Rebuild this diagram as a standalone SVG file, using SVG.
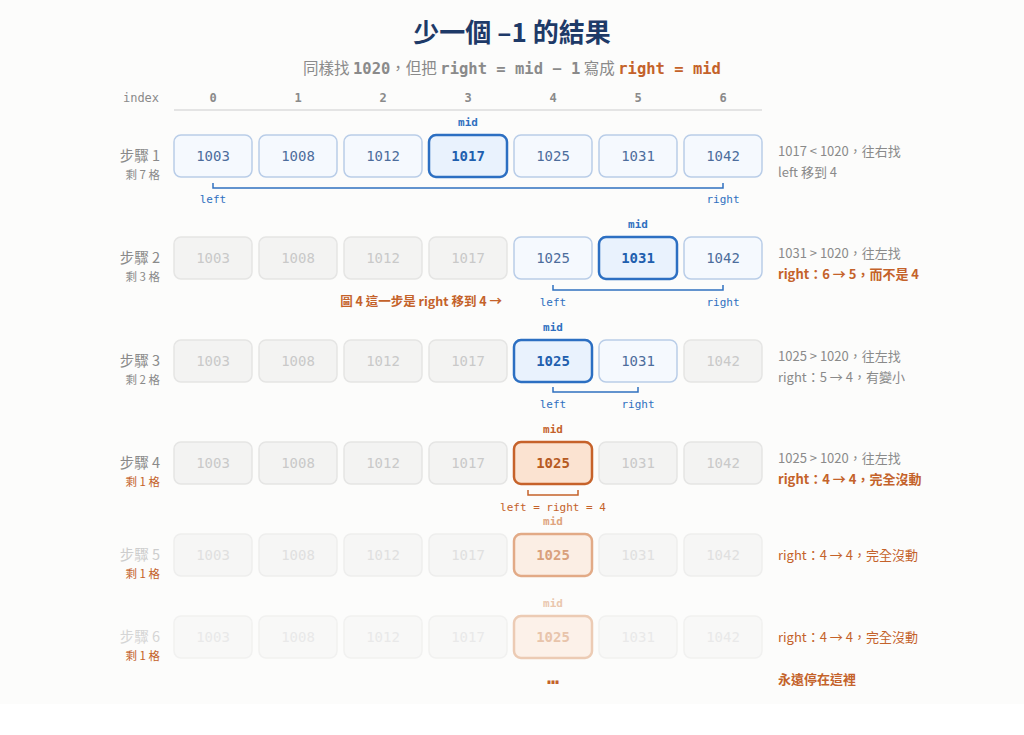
<svg xmlns="http://www.w3.org/2000/svg" width="1024" height="735" viewBox="0 0 1024 735">
<style>
.cjk{font-family:"Noto Sans CJK TC","Noto Sans",sans-serif}
.mono{font-family:"DejaVu Sans Mono","Liberation Mono",monospace}
.num{font-family:"DejaVu Sans Mono","Liberation Mono",monospace;font-size:14px;text-anchor:middle}
.bx{fill:#f5f9fe;stroke:#b9cde8;stroke-width:1.5}
.bxt{fill:#4d6d9c}
.mid{fill:#e9f2fd;stroke:#2c6fc2;stroke-width:2.5}
.midt{fill:#1f5fae;font-weight:bold}
.gr{fill:#f3f3f2;stroke:#e5e5e4;stroke-width:1.5}
.grt{fill:#c9c9c9}
.gr2{fill:#f6f6f5;stroke:#eeeeed;stroke-width:1.5}
.gr2t{fill:#e0e0e0}
.gr3{fill:#f8f8f7;stroke:#f1f1f0;stroke-width:1.5}
.gr3t{fill:#e9e9e9}
.or{fill:#fbe3d1;stroke:#c6622a;stroke-width:2.5}
.ort{fill:#b65a22;font-weight:bold}
.lbl{font-size:11px;text-anchor:middle}
.br{fill:none;stroke-width:1.5}
.step{font-size:14.5px;text-anchor:end;fill:#8a8a8a}
.rem{font-size:11.5px;text-anchor:end;fill:#8a8a8a}
.note{font-size:13px;fill:#8a8a8a}
.blue{fill:#2f70c0}
.orange{fill:#c4622a}
</style>
<rect x="0" y="0" width="1024" height="704" fill="#fcfcfb"/>
<rect x="0" y="704" width="1024" height="31" fill="#ffffff"/>

<g id="title">
<text x="512" y="42" class="cjk" font-size="26" font-weight="bold" fill="#1e3a68" text-anchor="middle">少一個 –1 的結果</text>
<text x="512" y="74" class="cjk" font-size="15.5" fill="#8a8a8a" text-anchor="middle">同樣找 <tspan class="mono" font-weight="bold">1020</tspan>，但把 <tspan class="mono" font-weight="bold">right = mid − 1</tspan> 寫成 <tspan class="mono" font-weight="bold" fill="#c4622a">right = mid</tspan></text>
</g>

<g id="index-header" class="mono" font-size="12" fill="#8a8a8a" text-anchor="middle">
<text x="141" y="102">index</text>
<text x="213" y="102" font-weight="bold">0</text>
<text x="298" y="102" font-weight="bold">1</text>
<text x="383" y="102" font-weight="bold">2</text>
<text x="468" y="102" font-weight="bold">3</text>
<text x="553" y="102" font-weight="bold">4</text>
<text x="638" y="102" font-weight="bold">5</text>
<text x="723" y="102" font-weight="bold">6</text>
<line x1="174" y1="110" x2="762" y2="110" stroke="#dcdcdc" stroke-width="1.5"/>
</g>

<!-- Step 1 -->
<g id="step1">
<text x="160" y="161" class="cjk step">步驟 1</text>
<text x="160" y="179" class="cjk rem">剩 7 格</text>
<rect x="174" y="135" width="78" height="42" rx="7" class="bx"/><text x="213" y="161" class="num bxt">1003</text>
<rect x="259" y="135" width="78" height="42" rx="7" class="bx"/><text x="298" y="161" class="num bxt">1008</text>
<rect x="344" y="135" width="78" height="42" rx="7" class="bx"/><text x="383" y="161" class="num bxt">1012</text>
<rect x="429" y="135" width="78" height="42" rx="7" class="mid"/><text x="468" y="161" class="num midt">1017</text>
<rect x="514" y="135" width="78" height="42" rx="7" class="bx"/><text x="553" y="161" class="num bxt">1025</text>
<rect x="599" y="135" width="78" height="42" rx="7" class="bx"/><text x="638" y="161" class="num bxt">1031</text>
<rect x="684" y="135" width="78" height="42" rx="7" class="bx"/><text x="723" y="161" class="num bxt">1042</text>
<text x="468" y="126" class="mono lbl blue" font-weight="bold">mid</text>
<text x="213" y="203" class="mono lbl blue">left</text>
<text x="723" y="203" class="mono lbl blue">right</text>
<text x="778" y="156" class="cjk note">1017 &lt; 1020，往右找</text>
<text x="778" y="177" class="cjk note">left 移到 4</text>
</g>

<!-- Step 2 -->
<g id="step2">
<text x="160" y="263" class="cjk step">步驟 2</text>
<text x="160" y="281" class="cjk rem">剩 3 格</text>
<rect x="174" y="237" width="78" height="42" rx="7" class="gr"/><text x="213" y="263" class="num grt">1003</text>
<rect x="259" y="237" width="78" height="42" rx="7" class="gr"/><text x="298" y="263" class="num grt">1008</text>
<rect x="344" y="237" width="78" height="42" rx="7" class="gr"/><text x="383" y="263" class="num grt">1012</text>
<rect x="429" y="237" width="78" height="42" rx="7" class="gr"/><text x="468" y="263" class="num grt">1017</text>
<rect x="514" y="237" width="78" height="42" rx="7" class="bx"/><text x="553" y="263" class="num bxt">1025</text>
<rect x="599" y="237" width="78" height="42" rx="7" class="mid"/><text x="638" y="263" class="num midt">1031</text>
<rect x="684" y="237" width="78" height="42" rx="7" class="bx"/><text x="723" y="263" class="num bxt">1042</text>
<text x="638" y="228" class="mono lbl blue" font-weight="bold">mid</text>
<text x="553" y="306" class="mono lbl blue">left</text>
<text x="723" y="306" class="mono lbl blue">right</text>
<text x="502" y="306" class="cjk orange" font-size="12.5" font-weight="bold" text-anchor="end">圖 4 這一步是 right 移到 4 →</text>
<text x="778" y="258" class="cjk note">1031 &gt; 1020，往左找</text>
<text x="778" y="279" class="cjk note orange" font-weight="bold">right：6 → 5，而不是 4</text>
</g>

<!-- Step 3 -->
<g id="step3">
<text x="160" y="366" class="cjk step">步驟 3</text>
<text x="160" y="384" class="cjk rem">剩 2 格</text>
<rect x="174" y="340" width="78" height="42" rx="7" class="gr"/><text x="213" y="366" class="num grt">1003</text>
<rect x="259" y="340" width="78" height="42" rx="7" class="gr"/><text x="298" y="366" class="num grt">1008</text>
<rect x="344" y="340" width="78" height="42" rx="7" class="gr"/><text x="383" y="366" class="num grt">1012</text>
<rect x="429" y="340" width="78" height="42" rx="7" class="gr"/><text x="468" y="366" class="num grt">1017</text>
<rect x="514" y="340" width="78" height="42" rx="7" class="mid"/><text x="553" y="366" class="num midt">1025</text>
<rect x="599" y="340" width="78" height="42" rx="7" class="bx"/><text x="638" y="366" class="num bxt">1031</text>
<rect x="684" y="340" width="78" height="42" rx="7" class="gr"/><text x="723" y="366" class="num grt">1042</text>
<text x="553" y="331" class="mono lbl blue" font-weight="bold">mid</text>
<text x="553" y="408" class="mono lbl blue">left</text>
<text x="638" y="408" class="mono lbl blue">right</text>
<text x="778" y="361" class="cjk note">1025 &gt; 1020，往左找</text>
<text x="778" y="382" class="cjk note">right：5 → 4，有變小</text>
</g>

<!-- Step 4 -->
<g id="step4">
<text x="160" y="468" class="cjk step">步驟 4</text>
<text x="160" y="486" class="cjk rem orange">剩 1 格</text>
<rect x="174" y="442" width="78" height="42" rx="7" class="gr"/><text x="213" y="468" class="num grt">1003</text>
<rect x="259" y="442" width="78" height="42" rx="7" class="gr"/><text x="298" y="468" class="num grt">1008</text>
<rect x="344" y="442" width="78" height="42" rx="7" class="gr"/><text x="383" y="468" class="num grt">1012</text>
<rect x="429" y="442" width="78" height="42" rx="7" class="gr"/><text x="468" y="468" class="num grt">1017</text>
<rect x="514" y="442" width="78" height="42" rx="7" class="or"/><text x="553" y="468" class="num ort">1025</text>
<rect x="599" y="442" width="78" height="42" rx="7" class="gr"/><text x="638" y="468" class="num grt">1031</text>
<rect x="684" y="442" width="78" height="42" rx="7" class="gr"/><text x="723" y="468" class="num grt">1042</text>
<text x="553" y="433" class="mono lbl orange" font-weight="bold">mid</text>
<text x="553" y="511" class="mono lbl orange">left = right = 4</text>
<text x="778" y="463" class="cjk note">1025 &gt; 1020，往左找</text>
<text x="778" y="484" class="cjk note orange" font-weight="bold">right：4 → 4，完全沒動</text>
</g>

<!-- Step 5 -->
<g id="step5">
<text x="160" y="560" class="cjk step" style="fill:#cdcdcd">步驟 5</text>
<text x="160" y="578" class="cjk rem orange">剩 1 格</text>
<rect x="174" y="534" width="78" height="42" rx="7" class="gr2"/><text x="213" y="560" class="num gr2t">1003</text>
<rect x="259" y="534" width="78" height="42" rx="7" class="gr2"/><text x="298" y="560" class="num gr2t">1008</text>
<rect x="344" y="534" width="78" height="42" rx="7" class="gr2"/><text x="383" y="560" class="num gr2t">1012</text>
<rect x="429" y="534" width="78" height="42" rx="7" class="gr2"/><text x="468" y="560" class="num gr2t">1017</text>
<rect x="514" y="534" width="78" height="42" rx="7" fill="#fbeee4" stroke="#e2aa86" stroke-width="2.5"/><text x="553" y="560" class="num" font-weight="bold" fill="#d9a07c">1025</text>
<rect x="599" y="534" width="78" height="42" rx="7" class="gr2"/><text x="638" y="560" class="num gr2t">1031</text>
<rect x="684" y="534" width="78" height="42" rx="7" class="gr2"/><text x="723" y="560" class="num gr2t">1042</text>
<text x="553" y="525" class="mono lbl" font-weight="bold" fill="#dfa47e">mid</text>
<text x="778" y="560" class="cjk note orange">right：4 → 4，完全沒動</text>
</g>

<!-- Step 6 -->
<g id="step6">
<text x="160" y="642" class="cjk step" style="fill:#d5d5d5">步驟 6</text>
<text x="160" y="660" class="cjk rem orange">剩 1 格</text>
<rect x="174" y="616" width="78" height="42" rx="7" class="gr3"/><text x="213" y="642" class="num gr3t">1003</text>
<rect x="259" y="616" width="78" height="42" rx="7" class="gr3"/><text x="298" y="642" class="num gr3t">1008</text>
<rect x="344" y="616" width="78" height="42" rx="7" class="gr3"/><text x="383" y="642" class="num gr3t">1012</text>
<rect x="429" y="616" width="78" height="42" rx="7" class="gr3"/><text x="468" y="642" class="num gr3t">1017</text>
<rect x="514" y="616" width="78" height="42" rx="7" fill="#fcf1e9" stroke="#eccbb4" stroke-width="2.5"/><text x="553" y="642" class="num" font-weight="bold" fill="#e8c4ab">1025</text>
<rect x="599" y="616" width="78" height="42" rx="7" class="gr3"/><text x="638" y="642" class="num gr3t">1031</text>
<rect x="684" y="616" width="78" height="42" rx="7" class="gr3"/><text x="723" y="642" class="num gr3t">1042</text>
<text x="553" y="607" class="mono lbl" font-weight="bold" fill="#eac7ae">mid</text>
<text x="778" y="642" class="cjk note orange">right：4 → 4，完全沒動</text>
</g>

<g id="ending">
<text x="553" y="684" class="mono orange" font-size="20" font-weight="bold" text-anchor="middle">…</text>
<text x="778" y="684" class="cjk orange" font-size="13" font-weight="bold">永遠停在這裡</text>
</g>

<g id="connectors" class="br">
<path d="M213 183 V188 H723 V183" stroke="#2f70c0"/>
<path d="M553 285 V290 H723 V285" stroke="#2f70c0"/>
<path d="M553 387 V392 H638 V387" stroke="#2f70c0"/>
<path d="M528 490 V495 H578 V490" stroke="#c4622a"/>
</g>
</svg>
